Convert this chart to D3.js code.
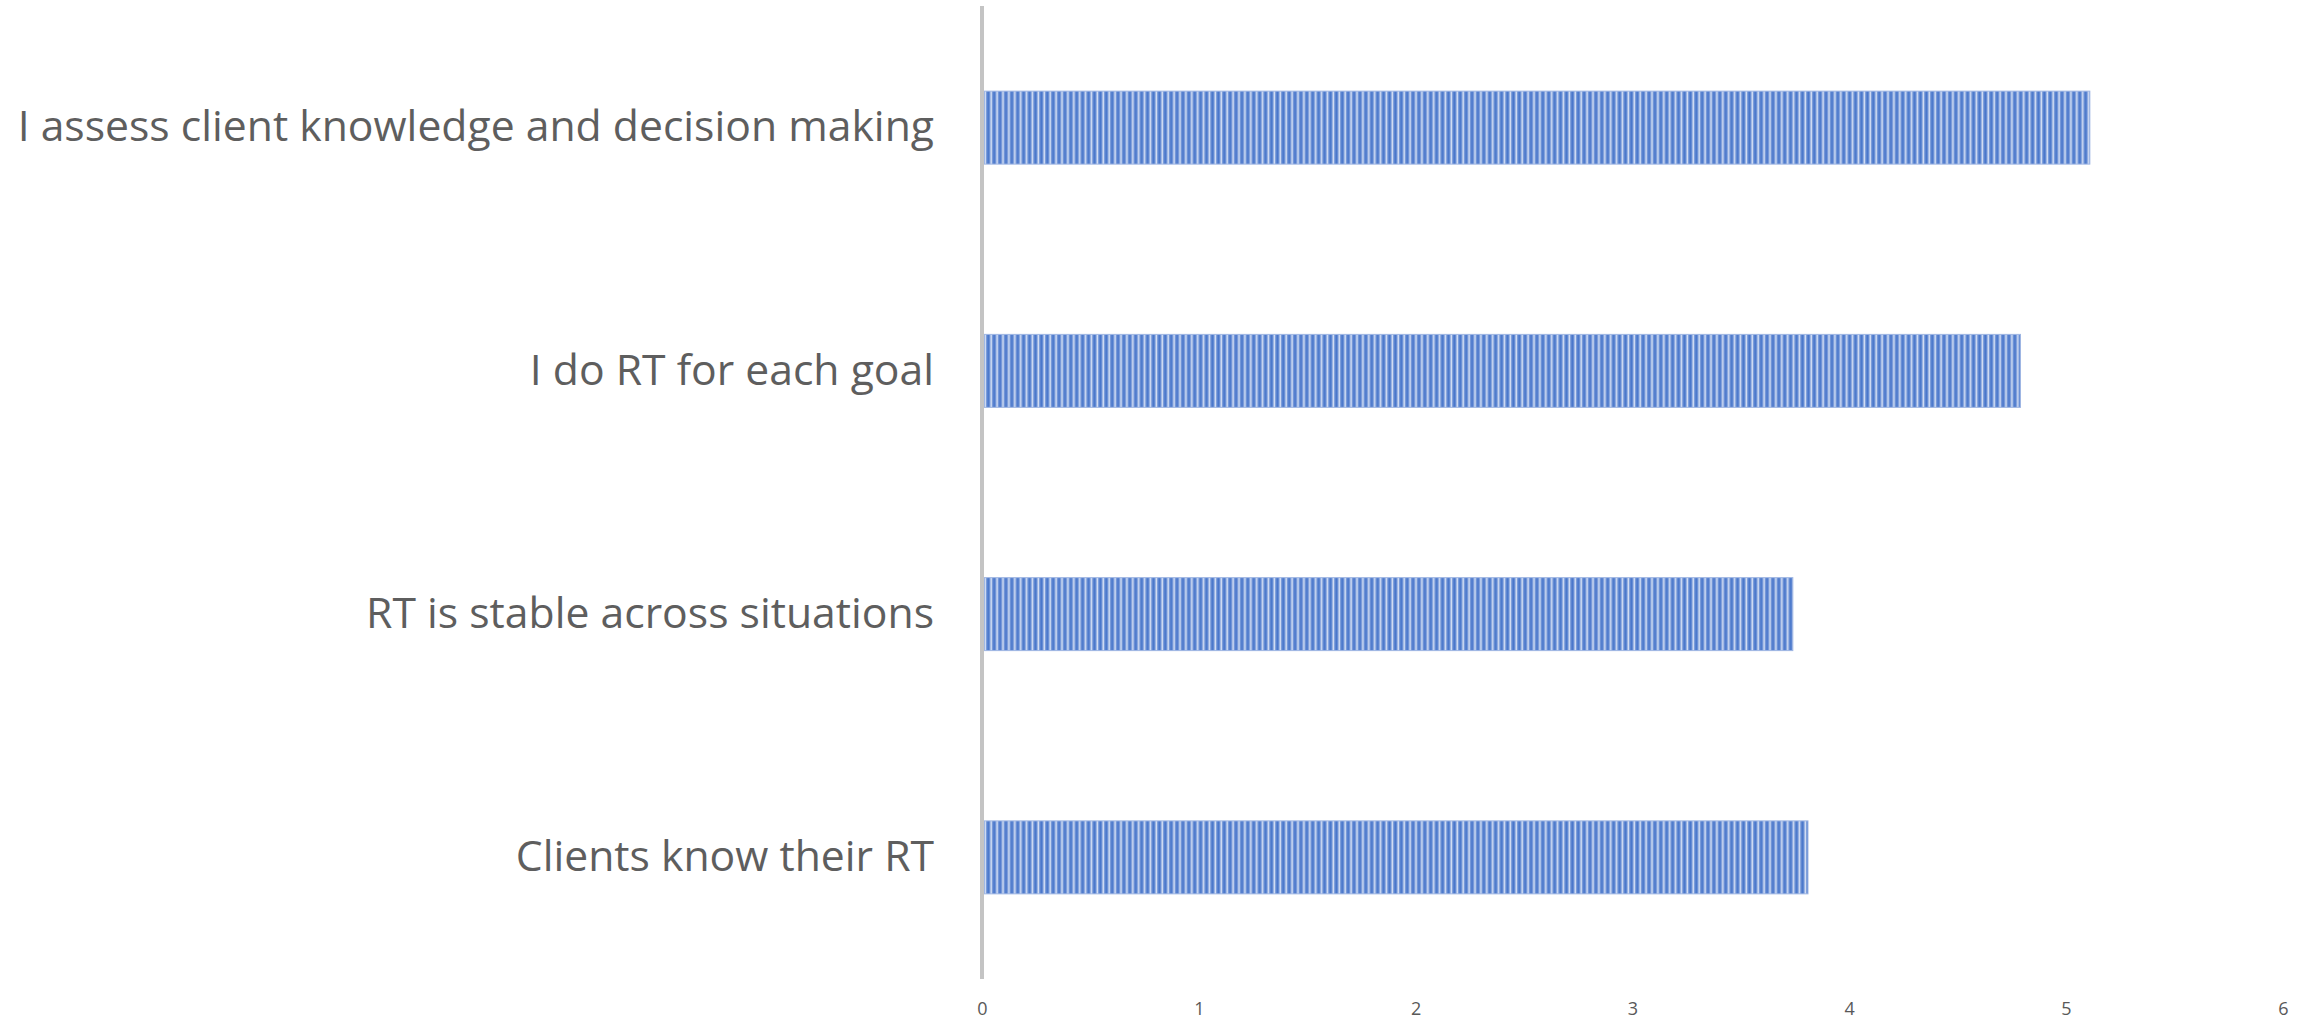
<!DOCTYPE html>
<html>
<head>
<meta charset="utf-8">
<script src="https://cdn.jsdelivr.net/npm/d3@7"></script>
<style>
  html, body { margin: 0; padding: 0; background: #ffffff; }
  svg { display: block; }
</style>
</head>
<body>
<svg id="chart" width="2321" height="1025"></svg>
<script>
// Survey statements (top to bottom) and their mean scores
const categories = [
  "I assess client knowledge and decision making",
  "I do RT for each goal",
  "RT is stable across situations",
  "Clients know their RT"
];
const values = [5.11, 4.79, 3.74, 3.81];
const tickValues = [0, 1, 2, 3, 4, 5, 6];

const W = 2321, H = 1025;
const margin = { top: 6, right: 38, bottom: 46, left: 982 };

const svg = d3.select("#chart");

const x = d3.scaleLinear()
  .domain([0, 6])
  .range([margin.left, margin.left + 216.8 * 6]);

const y = d3.scaleBand()
  .domain(categories)
  .range([margin.top, H - margin.bottom])
  .paddingInner(0.7)
  .paddingOuter(0.35);

// Striped fill for the bars
const defs = svg.append("defs");
const blur = defs.append("filter").attr("id", "soft")
  .attr("x", "-5%").attr("y", "-5%").attr("width", "110%").attr("height", "110%");
blur.append("feGaussianBlur").attr("stdDeviation", 0.6);

const pat = defs.append("pattern")
  .attr("id", "stripes")
  .attr("patternUnits", "userSpaceOnUse")
  .attr("x", margin.left)
  .attr("width", 5.9)
  .attr("height", 20);
pat.append("rect").attr("width", 5.9).attr("height", 20).attr("fill", "#4a77cb");
pat.append("rect").attr("x", 1.4).attr("width", 1).attr("height", 20).attr("fill", "#7598da");
pat.append("rect").attr("x", 2.4).attr("width", 1.8).attr("height", 20).attr("fill", "#d3def3");
pat.append("rect").attr("x", 4.2).attr("width", 1).attr("height", 20).attr("fill", "#83a3de");

// Bars
svg.append("g")
  .attr("filter", "url(#soft)")
  .selectAll("rect")
  .data(values)
  .join("rect")
  .attr("x", x(0))
  .attr("y", (d, i) => y(categories[i]))
  .attr("width", d => x(d) - x(0))
  .attr("height", y.bandwidth())
  .attr("fill", "url(#stripes)")
  .attr("stroke", "#9fb6e3")
  .attr("stroke-width", 1);

// Category labels
const yAxis = d3.axisLeft(y).tickSize(0).tickPadding(48);
const gy = svg.append("g")
  .attr("transform", `translate(${x(0)},0)`)
  .call(yAxis);
gy.select(".domain").remove();
gy.selectAll("text")
  .attr("fill", "#5e5e5e")
  .style("font-family", "'Open Sans', sans-serif")
  .style("font-size", "42.7px");

// Vertical axis line
svg.append("line")
  .attr("x1", x(0)).attr("x2", x(0))
  .attr("y1", margin.top).attr("y2", 979)
  .attr("stroke", "#c4c4c4")
  .attr("stroke-width", 4);

// Value axis tick labels
const xAxis = d3.axisBottom(x).tickValues(tickValues).tickFormat(d3.format("d"))
  .tickSize(0).tickPadding(0);
const gx = svg.append("g")
  .attr("transform", `translate(0,1001)`)
  .call(xAxis);
gx.select(".domain").remove();
gx.selectAll("text")
  .attr("fill", "#595959")
  .attr("dy", "0.75em")
  .style("font-family", "'Open Sans', sans-serif")
  .style("font-size", "18px");
</script>
</body>
</html>
